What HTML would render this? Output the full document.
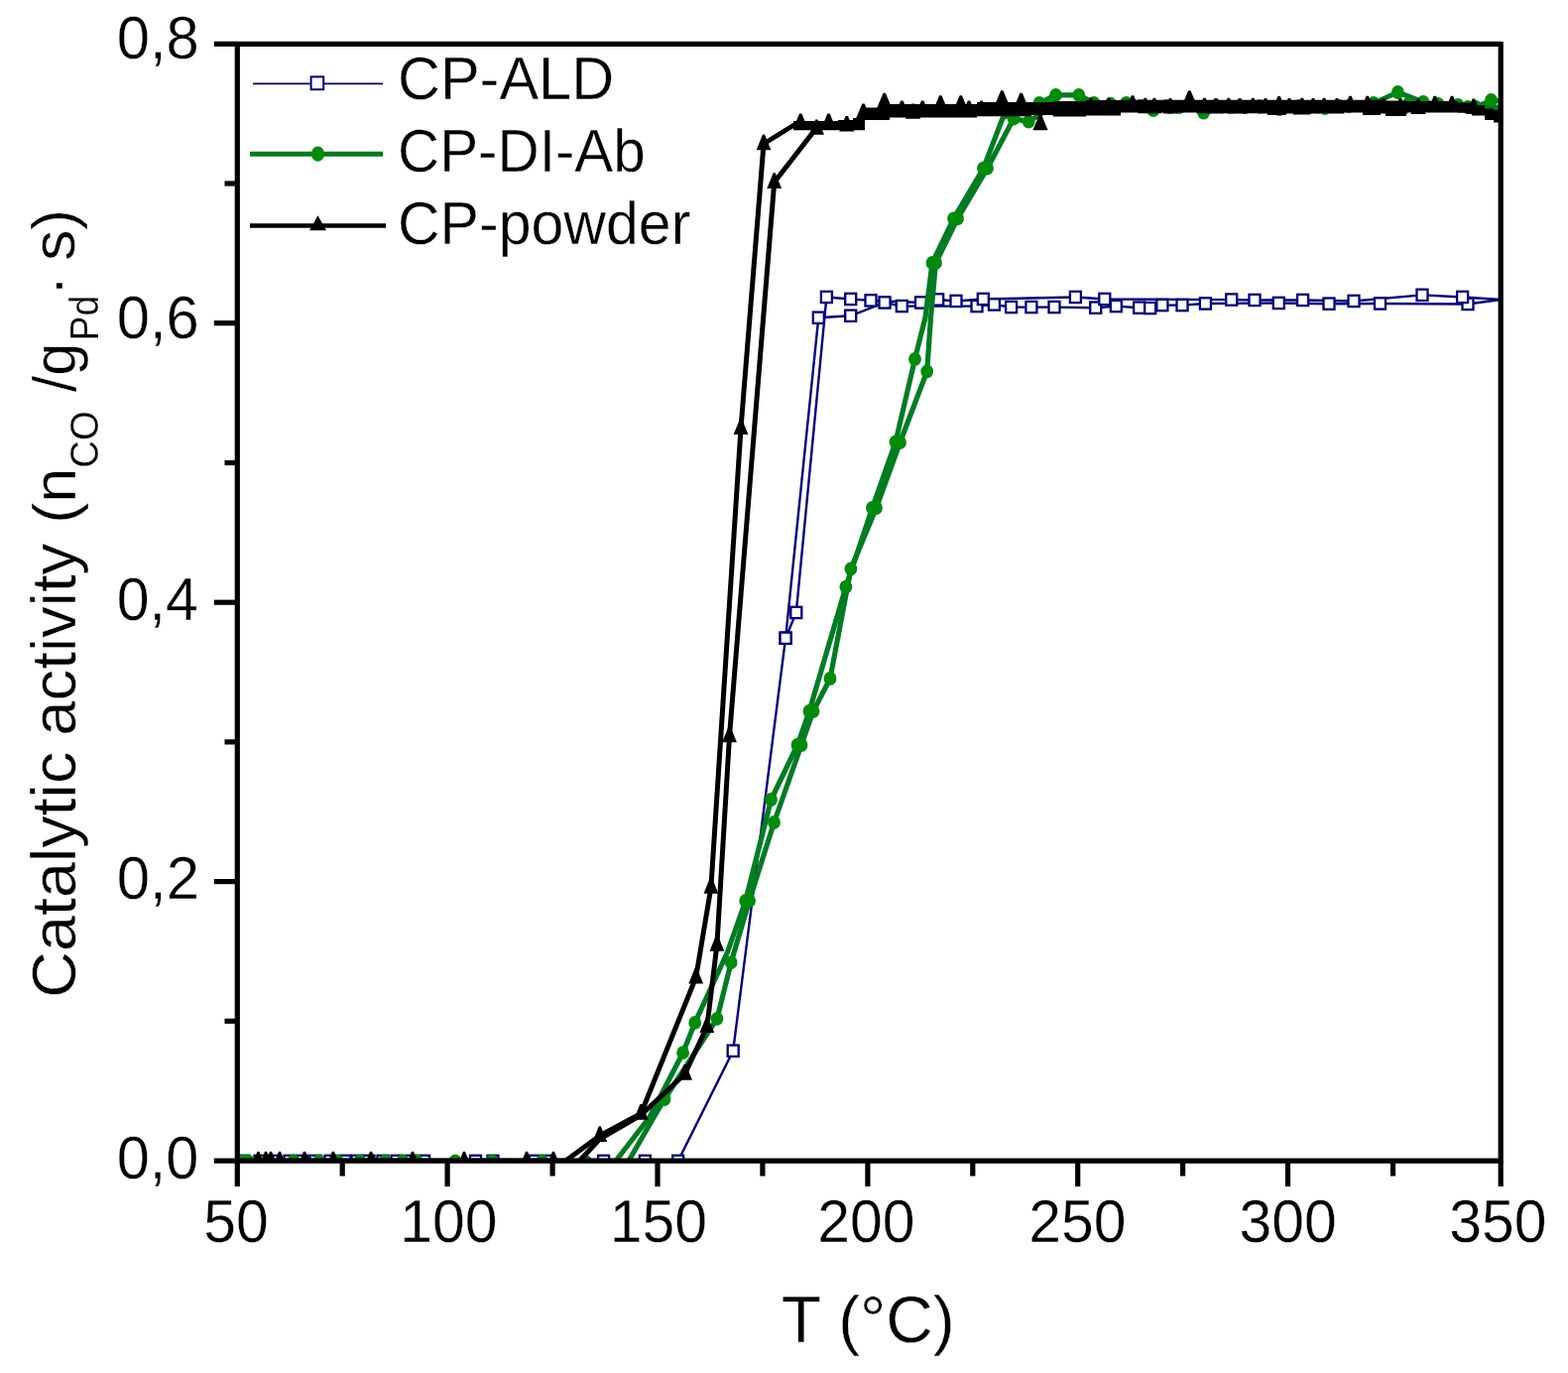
<!DOCTYPE html>
<html lang="en"><head><meta charset="utf-8"><title>Catalytic activity vs T</title>
<style>html,body{margin:0;padding:0;background:#fff}body{width:1581px;height:1384px;overflow:hidden}svg text{font-family:"Liberation Sans", sans-serif}</style>
</head><body>
<svg width="1581" height="1384" viewBox="0 0 1581 1384" font-family='"Liberation Sans", sans-serif' style="display:block">
<rect width="1581" height="1384" fill="#fff"/>
<defs><clipPath id="plot"><rect x="239.3" y="44.3" width="1276.6000000000001" height="1125.8"/></clipPath></defs>
<g clip-path="url(#plot)">
<polyline points="246.0,1170.3 262.0,1170.3 277.0,1170.3 292.0,1170.3 305.0,1170.3 318.0,1170.3 333.0,1170.3 348.0,1170.3 360.0,1170.3 372.0,1170.3 386.0,1170.3 400.0,1170.3 414.0,1170.3 427.6,1170.3 479.5,1170.3 497.0,1170.3 539.0,1170.3 553.0,1170.3 608.6,1170.3 650.3,1170.3 683.7,1170.3 739.2,1059.2 792.1,643.2 825.3,320.3 857.7,318.3 892.0,305.0 909.3,308.6 985.0,308.6 1002.4,307.0 1019.6,309.6 1039.9,309.6 1063.0,309.6 1104.7,310.2 1125.3,308.6 1148.6,310.2 1159.7,310.6 1171.9,307.6 1192.0,307.6 1215.4,306.0 1289.3,305.5 1340.0,306.2 1391.5,306.0 1480.0,306.5 1513.0,302.0" fill="none" stroke="#00007a" stroke-width="2.4" stroke-linejoin="round" stroke-linecap="butt"/>
<polyline points="792.1,643.2 802.8,617.4 833.4,299.5 857.7,301.5 878.0,302.9 928.5,305.0 945.7,302.0 964.0,303.5 991.3,301.5 1084.4,299.5 1113.8,301.5 1241.7,302.1 1265.0,302.5 1313.6,302.5 1365.0,303.5 1434.0,297.4 1474.6,299.5 1513.0,302.0" fill="none" stroke="#00007a" stroke-width="2.4" stroke-linejoin="round" stroke-linecap="butt"/>
<rect x="240.5" y="1164.7" width="11.0" height="11.3" fill="#fff" stroke="#00007a" stroke-width="2.3"/>
<rect x="256.5" y="1164.7" width="11.0" height="11.3" fill="#fff" stroke="#00007a" stroke-width="2.3"/>
<rect x="271.5" y="1164.7" width="11.0" height="11.3" fill="#fff" stroke="#00007a" stroke-width="2.3"/>
<rect x="286.5" y="1164.7" width="11.0" height="11.3" fill="#fff" stroke="#00007a" stroke-width="2.3"/>
<rect x="299.5" y="1164.7" width="11.0" height="11.3" fill="#fff" stroke="#00007a" stroke-width="2.3"/>
<rect x="312.5" y="1164.7" width="11.0" height="11.3" fill="#fff" stroke="#00007a" stroke-width="2.3"/>
<rect x="327.5" y="1164.7" width="11.0" height="11.3" fill="#fff" stroke="#00007a" stroke-width="2.3"/>
<rect x="342.5" y="1164.7" width="11.0" height="11.3" fill="#fff" stroke="#00007a" stroke-width="2.3"/>
<rect x="354.5" y="1164.7" width="11.0" height="11.3" fill="#fff" stroke="#00007a" stroke-width="2.3"/>
<rect x="366.5" y="1164.7" width="11.0" height="11.3" fill="#fff" stroke="#00007a" stroke-width="2.3"/>
<rect x="380.5" y="1164.7" width="11.0" height="11.3" fill="#fff" stroke="#00007a" stroke-width="2.3"/>
<rect x="394.5" y="1164.7" width="11.0" height="11.3" fill="#fff" stroke="#00007a" stroke-width="2.3"/>
<rect x="408.5" y="1164.7" width="11.0" height="11.3" fill="#fff" stroke="#00007a" stroke-width="2.3"/>
<rect x="422.1" y="1164.7" width="11.0" height="11.3" fill="#fff" stroke="#00007a" stroke-width="2.3"/>
<rect x="474.0" y="1164.7" width="11.0" height="11.3" fill="#fff" stroke="#00007a" stroke-width="2.3"/>
<rect x="491.5" y="1164.7" width="11.0" height="11.3" fill="#fff" stroke="#00007a" stroke-width="2.3"/>
<rect x="533.5" y="1164.7" width="11.0" height="11.3" fill="#fff" stroke="#00007a" stroke-width="2.3"/>
<rect x="547.5" y="1164.7" width="11.0" height="11.3" fill="#fff" stroke="#00007a" stroke-width="2.3"/>
<rect x="603.1" y="1164.7" width="11.0" height="11.3" fill="#fff" stroke="#00007a" stroke-width="2.3"/>
<rect x="644.8" y="1164.7" width="11.0" height="11.3" fill="#fff" stroke="#00007a" stroke-width="2.3"/>
<rect x="678.2" y="1164.7" width="11.0" height="11.3" fill="#fff" stroke="#00007a" stroke-width="2.3"/>
<rect x="733.7" y="1053.6" width="11.0" height="11.3" fill="#fff" stroke="#00007a" stroke-width="2.3"/>
<rect x="786.6" y="637.6" width="11.0" height="11.3" fill="#fff" stroke="#00007a" stroke-width="2.3"/>
<rect x="819.8" y="314.6" width="11.0" height="11.3" fill="#fff" stroke="#00007a" stroke-width="2.3"/>
<rect x="852.2" y="312.6" width="11.0" height="11.3" fill="#fff" stroke="#00007a" stroke-width="2.3"/>
<rect x="886.5" y="299.3" width="11.0" height="11.3" fill="#fff" stroke="#00007a" stroke-width="2.3"/>
<rect x="903.8" y="302.9" width="11.0" height="11.3" fill="#fff" stroke="#00007a" stroke-width="2.3"/>
<rect x="979.5" y="302.9" width="11.0" height="11.3" fill="#fff" stroke="#00007a" stroke-width="2.3"/>
<rect x="996.9" y="301.3" width="11.0" height="11.3" fill="#fff" stroke="#00007a" stroke-width="2.3"/>
<rect x="1014.1" y="303.9" width="11.0" height="11.3" fill="#fff" stroke="#00007a" stroke-width="2.3"/>
<rect x="1034.4" y="303.9" width="11.0" height="11.3" fill="#fff" stroke="#00007a" stroke-width="2.3"/>
<rect x="1057.5" y="303.9" width="11.0" height="11.3" fill="#fff" stroke="#00007a" stroke-width="2.3"/>
<rect x="1099.2" y="304.5" width="11.0" height="11.3" fill="#fff" stroke="#00007a" stroke-width="2.3"/>
<rect x="1119.8" y="302.9" width="11.0" height="11.3" fill="#fff" stroke="#00007a" stroke-width="2.3"/>
<rect x="1143.1" y="304.5" width="11.0" height="11.3" fill="#fff" stroke="#00007a" stroke-width="2.3"/>
<rect x="1154.2" y="304.9" width="11.0" height="11.3" fill="#fff" stroke="#00007a" stroke-width="2.3"/>
<rect x="1166.4" y="301.9" width="11.0" height="11.3" fill="#fff" stroke="#00007a" stroke-width="2.3"/>
<rect x="1186.5" y="301.9" width="11.0" height="11.3" fill="#fff" stroke="#00007a" stroke-width="2.3"/>
<rect x="1209.9" y="300.3" width="11.0" height="11.3" fill="#fff" stroke="#00007a" stroke-width="2.3"/>
<rect x="1283.8" y="299.8" width="11.0" height="11.3" fill="#fff" stroke="#00007a" stroke-width="2.3"/>
<rect x="1334.5" y="300.5" width="11.0" height="11.3" fill="#fff" stroke="#00007a" stroke-width="2.3"/>
<rect x="1386.0" y="300.3" width="11.0" height="11.3" fill="#fff" stroke="#00007a" stroke-width="2.3"/>
<rect x="1474.5" y="300.8" width="11.0" height="11.3" fill="#fff" stroke="#00007a" stroke-width="2.3"/>
<rect x="786.6" y="637.6" width="11.0" height="11.3" fill="#fff" stroke="#00007a" stroke-width="2.3"/>
<rect x="797.3" y="611.8" width="11.0" height="11.3" fill="#fff" stroke="#00007a" stroke-width="2.3"/>
<rect x="827.9" y="293.8" width="11.0" height="11.3" fill="#fff" stroke="#00007a" stroke-width="2.3"/>
<rect x="852.2" y="295.8" width="11.0" height="11.3" fill="#fff" stroke="#00007a" stroke-width="2.3"/>
<rect x="872.5" y="297.2" width="11.0" height="11.3" fill="#fff" stroke="#00007a" stroke-width="2.3"/>
<rect x="923.0" y="299.3" width="11.0" height="11.3" fill="#fff" stroke="#00007a" stroke-width="2.3"/>
<rect x="940.2" y="296.3" width="11.0" height="11.3" fill="#fff" stroke="#00007a" stroke-width="2.3"/>
<rect x="958.5" y="297.8" width="11.0" height="11.3" fill="#fff" stroke="#00007a" stroke-width="2.3"/>
<rect x="985.8" y="295.8" width="11.0" height="11.3" fill="#fff" stroke="#00007a" stroke-width="2.3"/>
<rect x="1078.9" y="293.8" width="11.0" height="11.3" fill="#fff" stroke="#00007a" stroke-width="2.3"/>
<rect x="1108.3" y="295.8" width="11.0" height="11.3" fill="#fff" stroke="#00007a" stroke-width="2.3"/>
<rect x="1236.2" y="296.4" width="11.0" height="11.3" fill="#fff" stroke="#00007a" stroke-width="2.3"/>
<rect x="1259.5" y="296.8" width="11.0" height="11.3" fill="#fff" stroke="#00007a" stroke-width="2.3"/>
<rect x="1308.1" y="296.8" width="11.0" height="11.3" fill="#fff" stroke="#00007a" stroke-width="2.3"/>
<rect x="1359.5" y="297.8" width="11.0" height="11.3" fill="#fff" stroke="#00007a" stroke-width="2.3"/>
<rect x="1428.5" y="291.7" width="11.0" height="11.3" fill="#fff" stroke="#00007a" stroke-width="2.3"/>
<rect x="1469.1" y="293.8" width="11.0" height="11.3" fill="#fff" stroke="#00007a" stroke-width="2.3"/>
<polyline points="243.0,1170.3 250.0,1170.3 270.0,1170.3 296.0,1170.3 322.0,1170.3 340.0,1170.3 363.0,1170.3 388.0,1170.3 406.0,1170.3 420.0,1170.3 459.0,1170.3 496.0,1170.3 546.6,1170.3 590.0,1170.3 621.0,1170.0 655.0,1126.0 688.6,1061.2 700.7,1030.9 733.4,960.0 751.7,908.0 777.5,806.0 804.0,751.0 816.0,717.0 852.9,591.6 879.5,512.0 903.0,445.5 922.5,362.0 933.0,320.0 940.0,265.0 961.6,220.4 991.5,169.7 1011.0,119.0 1030.0,110.0 1048.0,104.0 1064.5,95.8 1087.8,95.8 1103.0,103.8 1120.0,105.0 1135.5,103.8 1150.0,107.0 1162.9,111.1 1176.0,107.0 1189.0,108.0 1201.0,106.0 1213.5,113.6 1226.0,106.5 1240.0,108.0 1255.0,108.0 1270.0,107.0 1290.0,110.0 1310.0,107.0 1336.0,109.0 1360.0,107.0 1385.0,104.0 1409.4,93.0 1435.0,103.0 1450.0,105.0 1470.0,106.0 1488.0,108.0 1503.5,101.0 1513.0,102.0" fill="none" stroke="#007c22" stroke-width="5.2" stroke-linejoin="round" stroke-linecap="butt"/>
<polyline points="634.0,1170.0 657.0,1130.0 670.0,1108.0 723.0,1026.8 737.2,970.1 755.5,908.0 780.5,829.0 808.0,751.0 820.0,717.0 837.0,684.0 857.9,573.4 883.5,512.0 907.5,446.0 934.7,374.4 938.5,320.0 943.5,265.0 965.5,220.4 995.5,169.7 1022.0,119.6 1037.2,122.6 1060.0,108.0 1090.0,106.0 1120.0,106.0 1150.0,107.0 1180.0,108.0 1210.0,108.0 1250.0,107.0 1290.0,108.0 1320.0,108.0 1350.0,107.0 1380.0,107.0 1420.0,105.0 1450.0,106.0 1480.0,108.0 1513.0,108.0" fill="none" stroke="#007c22" stroke-width="5.2" stroke-linejoin="round" stroke-linecap="butt"/>
<ellipse cx="243.0" cy="1170.3" rx="6.4" ry="6.9" fill="#008c0a"/>
<ellipse cx="250.0" cy="1170.3" rx="6.4" ry="6.9" fill="#008c0a"/>
<ellipse cx="270.0" cy="1170.3" rx="6.4" ry="6.9" fill="#008c0a"/>
<ellipse cx="296.0" cy="1170.3" rx="6.4" ry="6.9" fill="#008c0a"/>
<ellipse cx="322.0" cy="1170.3" rx="6.4" ry="6.9" fill="#008c0a"/>
<ellipse cx="340.0" cy="1170.3" rx="6.4" ry="6.9" fill="#008c0a"/>
<ellipse cx="363.0" cy="1170.3" rx="6.4" ry="6.9" fill="#008c0a"/>
<ellipse cx="388.0" cy="1170.3" rx="6.4" ry="6.9" fill="#008c0a"/>
<ellipse cx="406.0" cy="1170.3" rx="6.4" ry="6.9" fill="#008c0a"/>
<ellipse cx="420.0" cy="1170.3" rx="6.4" ry="6.9" fill="#008c0a"/>
<ellipse cx="459.0" cy="1170.3" rx="6.4" ry="6.9" fill="#008c0a"/>
<ellipse cx="496.0" cy="1170.3" rx="6.4" ry="6.9" fill="#008c0a"/>
<ellipse cx="546.6" cy="1170.3" rx="6.4" ry="6.9" fill="#008c0a"/>
<ellipse cx="590.0" cy="1170.3" rx="6.4" ry="6.9" fill="#008c0a"/>
<ellipse cx="688.6" cy="1061.2" rx="6.4" ry="6.9" fill="#008c0a"/>
<ellipse cx="700.7" cy="1030.9" rx="6.4" ry="6.9" fill="#008c0a"/>
<ellipse cx="751.7" cy="908.0" rx="6.4" ry="6.9" fill="#008c0a"/>
<ellipse cx="777.5" cy="806.0" rx="6.4" ry="6.9" fill="#008c0a"/>
<ellipse cx="804.0" cy="751.0" rx="6.4" ry="6.9" fill="#008c0a"/>
<ellipse cx="816.0" cy="717.0" rx="6.4" ry="6.9" fill="#008c0a"/>
<ellipse cx="852.9" cy="591.6" rx="6.4" ry="6.9" fill="#008c0a"/>
<ellipse cx="879.5" cy="512.0" rx="6.4" ry="6.9" fill="#008c0a"/>
<ellipse cx="903.0" cy="445.5" rx="6.4" ry="6.9" fill="#008c0a"/>
<ellipse cx="922.5" cy="362.0" rx="6.4" ry="6.9" fill="#008c0a"/>
<ellipse cx="940.0" cy="265.0" rx="6.4" ry="6.9" fill="#008c0a"/>
<ellipse cx="961.6" cy="220.4" rx="6.4" ry="6.9" fill="#008c0a"/>
<ellipse cx="991.5" cy="169.7" rx="6.4" ry="6.9" fill="#008c0a"/>
<ellipse cx="1030.0" cy="110.0" rx="6.4" ry="6.9" fill="#008c0a"/>
<ellipse cx="1048.0" cy="104.0" rx="6.4" ry="6.9" fill="#008c0a"/>
<ellipse cx="1064.5" cy="95.8" rx="6.4" ry="6.9" fill="#008c0a"/>
<ellipse cx="1087.8" cy="95.8" rx="6.4" ry="6.9" fill="#008c0a"/>
<ellipse cx="1103.0" cy="103.8" rx="6.4" ry="6.9" fill="#008c0a"/>
<ellipse cx="1120.0" cy="105.0" rx="6.4" ry="6.9" fill="#008c0a"/>
<ellipse cx="1135.5" cy="103.8" rx="6.4" ry="6.9" fill="#008c0a"/>
<ellipse cx="1150.0" cy="107.0" rx="6.4" ry="6.9" fill="#008c0a"/>
<ellipse cx="1162.9" cy="111.1" rx="6.4" ry="6.9" fill="#008c0a"/>
<ellipse cx="1176.0" cy="107.0" rx="6.4" ry="6.9" fill="#008c0a"/>
<ellipse cx="1189.0" cy="108.0" rx="6.4" ry="6.9" fill="#008c0a"/>
<ellipse cx="1201.0" cy="106.0" rx="6.4" ry="6.9" fill="#008c0a"/>
<ellipse cx="1213.5" cy="113.6" rx="6.4" ry="6.9" fill="#008c0a"/>
<ellipse cx="1226.0" cy="106.5" rx="6.4" ry="6.9" fill="#008c0a"/>
<ellipse cx="1240.0" cy="108.0" rx="6.4" ry="6.9" fill="#008c0a"/>
<ellipse cx="1255.0" cy="108.0" rx="6.4" ry="6.9" fill="#008c0a"/>
<ellipse cx="1270.0" cy="107.0" rx="6.4" ry="6.9" fill="#008c0a"/>
<ellipse cx="1290.0" cy="110.0" rx="6.4" ry="6.9" fill="#008c0a"/>
<ellipse cx="1310.0" cy="107.0" rx="6.4" ry="6.9" fill="#008c0a"/>
<ellipse cx="1336.0" cy="109.0" rx="6.4" ry="6.9" fill="#008c0a"/>
<ellipse cx="1360.0" cy="107.0" rx="6.4" ry="6.9" fill="#008c0a"/>
<ellipse cx="1385.0" cy="104.0" rx="6.4" ry="6.9" fill="#008c0a"/>
<ellipse cx="1409.4" cy="93.0" rx="6.4" ry="6.9" fill="#008c0a"/>
<ellipse cx="1435.0" cy="103.0" rx="6.4" ry="6.9" fill="#008c0a"/>
<ellipse cx="1450.0" cy="105.0" rx="6.4" ry="6.9" fill="#008c0a"/>
<ellipse cx="1470.0" cy="106.0" rx="6.4" ry="6.9" fill="#008c0a"/>
<ellipse cx="1488.0" cy="108.0" rx="6.4" ry="6.9" fill="#008c0a"/>
<ellipse cx="1503.5" cy="101.0" rx="6.4" ry="6.9" fill="#008c0a"/>
<ellipse cx="670.0" cy="1108.0" rx="6.4" ry="6.9" fill="#008c0a"/>
<ellipse cx="723.0" cy="1026.8" rx="6.4" ry="6.9" fill="#008c0a"/>
<ellipse cx="737.2" cy="970.1" rx="6.4" ry="6.9" fill="#008c0a"/>
<ellipse cx="755.5" cy="908.0" rx="6.4" ry="6.9" fill="#008c0a"/>
<ellipse cx="780.5" cy="829.0" rx="6.4" ry="6.9" fill="#008c0a"/>
<ellipse cx="808.0" cy="751.0" rx="6.4" ry="6.9" fill="#008c0a"/>
<ellipse cx="820.0" cy="717.0" rx="6.4" ry="6.9" fill="#008c0a"/>
<ellipse cx="837.0" cy="684.0" rx="6.4" ry="6.9" fill="#008c0a"/>
<ellipse cx="857.9" cy="573.4" rx="6.4" ry="6.9" fill="#008c0a"/>
<ellipse cx="883.5" cy="512.0" rx="6.4" ry="6.9" fill="#008c0a"/>
<ellipse cx="907.5" cy="446.0" rx="6.4" ry="6.9" fill="#008c0a"/>
<ellipse cx="934.7" cy="374.4" rx="6.4" ry="6.9" fill="#008c0a"/>
<ellipse cx="943.5" cy="265.0" rx="6.4" ry="6.9" fill="#008c0a"/>
<ellipse cx="965.5" cy="220.4" rx="6.4" ry="6.9" fill="#008c0a"/>
<ellipse cx="995.5" cy="169.7" rx="6.4" ry="6.9" fill="#008c0a"/>
<ellipse cx="1022.0" cy="119.6" rx="6.4" ry="6.9" fill="#008c0a"/>
<ellipse cx="1037.2" cy="122.6" rx="6.4" ry="6.9" fill="#008c0a"/>
<ellipse cx="1060.0" cy="108.0" rx="6.4" ry="6.9" fill="#008c0a"/>
<ellipse cx="1090.0" cy="106.0" rx="6.4" ry="6.9" fill="#008c0a"/>
<ellipse cx="1120.0" cy="106.0" rx="6.4" ry="6.9" fill="#008c0a"/>
<ellipse cx="1150.0" cy="107.0" rx="6.4" ry="6.9" fill="#008c0a"/>
<ellipse cx="1180.0" cy="108.0" rx="6.4" ry="6.9" fill="#008c0a"/>
<ellipse cx="1210.0" cy="108.0" rx="6.4" ry="6.9" fill="#008c0a"/>
<ellipse cx="1250.0" cy="107.0" rx="6.4" ry="6.9" fill="#008c0a"/>
<ellipse cx="1290.0" cy="108.0" rx="6.4" ry="6.9" fill="#008c0a"/>
<ellipse cx="1320.0" cy="108.0" rx="6.4" ry="6.9" fill="#008c0a"/>
<ellipse cx="1350.0" cy="107.0" rx="6.4" ry="6.9" fill="#008c0a"/>
<ellipse cx="1380.0" cy="107.0" rx="6.4" ry="6.9" fill="#008c0a"/>
<ellipse cx="1420.0" cy="105.0" rx="6.4" ry="6.9" fill="#008c0a"/>
<ellipse cx="1450.0" cy="106.0" rx="6.4" ry="6.9" fill="#008c0a"/>
<ellipse cx="1480.0" cy="108.0" rx="6.4" ry="6.9" fill="#008c0a"/>
<polyline points="260.4,1170.3 268.0,1170.3 273.0,1170.3 282.0,1170.3 307.0,1170.3 336.0,1170.3 374.0,1170.3 416.0,1170.3 468.0,1170.3 531.0,1170.3 558.0,1170.3 570.4,1170.0 604.8,1144.8 646.3,1122.5 701.7,985.3 716.9,894.5 747.0,431.8 770.0,145.0 803.0,124.5" fill="none" stroke="#000" stroke-width="5.0" stroke-linejoin="round" stroke-linecap="butt"/>
<polyline points="584.5,1170.0 604.8,1148.0 646.3,1124.0 690.6,1082.5 712.9,1034.9 722.9,952.5 735.5,742.0 780.7,183.8 823.4,128.8" fill="none" stroke="#000" stroke-width="5.0" stroke-linejoin="round" stroke-linecap="butt"/>
<polygon points="259.4,1160.7 261.4,1160.7 267.8,1176.5 253.0,1176.5" fill="#000"/>
<polygon points="267.0,1160.7 269.0,1160.7 275.4,1176.5 260.6,1176.5" fill="#000"/>
<polygon points="272.0,1160.7 274.0,1160.7 280.4,1176.5 265.6,1176.5" fill="#000"/>
<polygon points="281.0,1160.7 283.0,1160.7 289.4,1176.5 274.6,1176.5" fill="#000"/>
<polygon points="306.0,1160.7 308.0,1160.7 314.4,1176.5 299.6,1176.5" fill="#000"/>
<polygon points="335.0,1160.7 337.0,1160.7 343.4,1176.5 328.6,1176.5" fill="#000"/>
<polygon points="373.0,1160.7 375.0,1160.7 381.4,1176.5 366.6,1176.5" fill="#000"/>
<polygon points="415.0,1160.7 417.0,1160.7 423.4,1176.5 408.6,1176.5" fill="#000"/>
<polygon points="467.0,1160.7 469.0,1160.7 475.4,1176.5 460.6,1176.5" fill="#000"/>
<polygon points="530.0,1160.7 532.0,1160.7 538.4,1176.5 523.6,1176.5" fill="#000"/>
<polygon points="557.0,1160.7 559.0,1160.7 565.4,1176.5 550.6,1176.5" fill="#000"/>
<polygon points="603.8,1135.2 605.8,1135.2 612.2,1151.0 597.4,1151.0" fill="#000"/>
<polygon points="645.3,1112.9 647.3,1112.9 653.7,1128.7 638.9,1128.7" fill="#000"/>
<polygon points="700.7,975.7 702.7,975.7 709.1,991.5 694.3,991.5" fill="#000"/>
<polygon points="715.9,884.9 717.9,884.9 724.3,900.7 709.5,900.7" fill="#000"/>
<polygon points="746.0,422.2 748.0,422.2 754.4,438.0 739.6,438.0" fill="#000"/>
<polygon points="769.0,135.4 771.0,135.4 777.4,151.2 762.6,151.2" fill="#000"/>
<polygon points="689.6,1072.9 691.6,1072.9 698.0,1088.7 683.2,1088.7" fill="#000"/>
<polygon points="711.9,1025.3 713.9,1025.3 720.3,1041.1 705.5,1041.1" fill="#000"/>
<polygon points="721.9,942.9 723.9,942.9 730.3,958.7 715.5,958.7" fill="#000"/>
<polygon points="734.5,732.4 736.5,732.4 742.9,748.2 728.1,748.2" fill="#000"/>
<polygon points="779.7,174.2 781.7,174.2 788.1,190.0 773.3,190.0" fill="#000"/>
<polygon points="800.0,122.1 845.0,122.1 845.0,121.0 860.0,121.0 860.0,119.0 872.0,119.0 872.0,108.5 897.0,108.5 897.0,105.0 985.0,105.0 985.0,103.0 1040.0,103.0 1040.0,103.0 1062.0,103.0 1062.0,102.0 1095.0,102.0 1095.0,101.0 1130.0,101.0 1130.0,100.8 1278.0,100.8 1278.0,100.8 1297.0,100.8 1297.0,100.8 1304.0,100.8 1304.0,100.8 1321.0,100.8 1321.0,100.8 1374.0,100.8 1374.0,100.8 1392.0,100.8 1392.0,100.8 1397.0,100.8 1397.0,101.5 1418.0,101.5 1418.0,102.0 1470.0,102.0 1470.0,103.4 1484.0,103.4 1484.0,106.0 1497.0,106.0 1497.0,109.5 1506.0,109.5 1506.0,110.5 1513.2,110.5 1513.2,123.6 1506.0,123.6 1506.0,121.0 1497.0,121.0 1497.0,116.5 1484.0,116.5 1484.0,113.8 1470.0,113.8 1470.0,113.5 1418.0,113.5 1418.0,117.0 1397.0,117.0 1397.0,113.5 1392.0,113.5 1392.0,116.0 1374.0,116.0 1374.0,113.5 1321.0,113.5 1321.0,115.5 1304.0,115.5 1304.0,113.5 1297.0,113.5 1297.0,116.0 1278.0,116.0 1278.0,113.5 1130.0,113.5 1130.0,116.5 1095.0,116.5 1095.0,117.5 1062.0,117.5 1062.0,116.0 1040.0,116.0 1040.0,117.2 985.0,117.2 985.0,118.6 897.0,118.6 897.0,121.1 872.0,121.1 872.0,131.2 860.0,131.2 860.0,131.2 845.0,131.2 845.0,131.2 800.0,131.2" fill="#000"/>
<polygon points="806.0,114.5 808.4,114.5 814.8,129.9 799.6,129.9" fill="#000"/>
<polygon points="834.3,114.5 836.7,114.5 843.1,129.9 827.9,129.9" fill="#000"/>
<polygon points="852.6,117.0 855.0,117.0 861.4,132.4 846.2,132.4" fill="#000"/>
<polygon points="869.3,104.4 871.7,104.4 878.1,119.8 862.9,119.8" fill="#000"/>
<polygon points="890.5,93.8 892.9,93.8 899.3,109.2 884.1,109.2" fill="#000"/>
<polygon points="908.2,101.4 910.6,101.4 917.0,116.8 901.8,116.8" fill="#000"/>
<polygon points="919.4,104.4 921.8,104.4 928.2,119.8 913.0,119.8" fill="#000"/>
<polygon points="929.0,101.4 931.4,101.4 937.8,116.8 922.6,116.8" fill="#000"/>
<polygon points="947.1,96.3 949.5,96.3 955.9,111.7 940.7,111.7" fill="#000"/>
<polygon points="967.6,96.3 970.0,96.3 976.4,111.7 961.2,111.7" fill="#000"/>
<polygon points="975.8,101.4 978.2,101.4 984.6,116.8 969.4,116.8" fill="#000"/>
<polygon points="988.4,101.4 990.8,101.4 997.2,116.8 982.0,116.8" fill="#000"/>
<polygon points="1009.1,91.3 1011.5,91.3 1017.9,106.7 1002.7,106.7" fill="#000"/>
<polygon points="1028.4,93.8 1030.8,93.8 1037.2,109.2 1022.0,109.2" fill="#000"/>
<polygon points="1140.8,96.3 1143.2,96.3 1149.6,111.7 1134.4,111.7" fill="#000"/>
<polygon points="1198.1,91.3 1200.5,91.3 1206.9,106.7 1191.7,106.7" fill="#000"/>
<polygon points="1153.6,98.8 1156.0,98.8 1162.4,114.2 1147.2,114.2" fill="#000"/>
<polygon points="1162.7,98.8 1165.1,98.8 1171.5,114.2 1156.3,114.2" fill="#000"/>
<polygon points="1213.3,98.8 1215.7,98.8 1222.1,114.2 1206.9,114.2" fill="#000"/>
<polygon points="1237.6,98.8 1240.0,98.8 1246.4,114.2 1231.2,114.2" fill="#000"/>
<polygon points="1262.1,98.8 1264.5,98.8 1270.9,114.2 1255.7,114.2" fill="#000"/>
<polygon points="1288.4,97.0 1290.8,97.0 1297.2,112.4 1282.0,112.4" fill="#000"/>
<polygon points="1311.7,98.8 1314.1,98.8 1320.5,114.2 1305.3,114.2" fill="#000"/>
<polygon points="1333.9,98.8 1336.3,98.8 1342.7,114.2 1327.5,114.2" fill="#000"/>
<polygon points="1360.3,96.8 1362.7,96.8 1369.1,112.2 1353.9,112.2" fill="#000"/>
<polygon points="1377.5,96.8 1379.9,96.8 1386.3,112.2 1371.1,112.2" fill="#000"/>
<polygon points="1445.6,96.8 1448.0,96.8 1454.4,112.2 1439.2,112.2" fill="#000"/>
<polygon points="1462.8,96.8 1465.2,96.8 1471.6,112.2 1456.4,112.2" fill="#000"/>
<polygon points="1484.6,99.5 1487.0,99.5 1493.4,114.9 1478.2,114.9" fill="#000"/>
<polygon points="1098.8,98.5 1101.2,98.5 1107.6,113.9 1092.4,113.9" fill="#000"/>
<polygon points="1116.8,98.5 1119.2,98.5 1125.6,113.9 1110.4,113.9" fill="#000"/>
<polygon points="1178.8,99.0 1181.2,99.0 1187.6,114.4 1172.4,114.4" fill="#000"/>
<polygon points="1224.8,99.0 1227.2,99.0 1233.6,114.4 1218.4,114.4" fill="#000"/>
<polygon points="1248.8,99.0 1251.2,99.0 1257.6,114.4 1242.4,114.4" fill="#000"/>
<polygon points="1274.8,99.0 1277.2,99.0 1283.6,114.4 1268.4,114.4" fill="#000"/>
<polygon points="1298.8,99.0 1301.2,99.0 1307.6,114.4 1292.4,114.4" fill="#000"/>
<polygon points="1322.8,99.0 1325.2,99.0 1331.6,114.4 1316.4,114.4" fill="#000"/>
<polygon points="1346.8,99.0 1349.2,99.0 1355.6,114.4 1340.4,114.4" fill="#000"/>
<polygon points="1393.8,99.0 1396.2,99.0 1402.6,114.4 1387.4,114.4" fill="#000"/>
<polygon points="1410.8,99.0 1413.2,99.0 1419.6,114.4 1404.4,114.4" fill="#000"/>
<polygon points="1428.8,99.5 1431.2,99.5 1437.6,114.9 1422.4,114.9" fill="#000"/>
<polygon points="822.2,120.4 824.6,120.4 831.0,135.8 815.8,135.8" fill="#000"/>
<polygon points="1047.8,115.8 1050.2,115.8 1056.6,131.2 1041.4,131.2" fill="#000"/>
</g>
<g stroke="#000" stroke-width="5.2" fill="none" stroke-linecap="butt">
<line x1="239.3" y1="41.90" x2="239.3" y2="1172.6999999999998"/>
<line x1="1513.2" y1="41.90" x2="1513.2" y2="1172.6999999999998"/>
<line x1="239.3" y1="44.3" x2="1513.2" y2="44.3"/>
<line x1="239.3" y1="1170.1" x2="1513.2" y2="1170.1"/>
<line x1="239.3" y1="1170.1" x2="239.3" y2="1196.0"/>
<line x1="345.2" y1="1170.1" x2="345.2" y2="1185.5"/>
<line x1="451.1" y1="1170.1" x2="451.1" y2="1196.0"/>
<line x1="557.1" y1="1170.1" x2="557.1" y2="1185.5"/>
<line x1="663.0" y1="1170.1" x2="663.0" y2="1196.0"/>
<line x1="768.9" y1="1170.1" x2="768.9" y2="1185.5"/>
<line x1="874.9" y1="1170.1" x2="874.9" y2="1196.0"/>
<line x1="980.8" y1="1170.1" x2="980.8" y2="1185.5"/>
<line x1="1086.7" y1="1170.1" x2="1086.7" y2="1196.0"/>
<line x1="1192.6" y1="1170.1" x2="1192.6" y2="1185.5"/>
<line x1="1298.5" y1="1170.1" x2="1298.5" y2="1196.0"/>
<line x1="1404.5" y1="1170.1" x2="1404.5" y2="1185.5"/>
<line x1="1513.2" y1="1170.1" x2="1513.2" y2="1196.0"/>
<line x1="215.8" y1="1170.1" x2="239.3" y2="1170.1"/>
<line x1="226.5" y1="1029.3" x2="239.3" y2="1029.3"/>
<line x1="215.8" y1="888.6" x2="239.3" y2="888.6"/>
<line x1="226.5" y1="747.9" x2="239.3" y2="747.9"/>
<line x1="215.8" y1="607.2" x2="239.3" y2="607.2"/>
<line x1="226.5" y1="466.5" x2="239.3" y2="466.5"/>
<line x1="215.8" y1="325.7" x2="239.3" y2="325.7"/>
<line x1="226.5" y1="185.0" x2="239.3" y2="185.0"/>
<line x1="215.8" y1="44.3" x2="239.3" y2="44.3"/>
</g>
<text transform="matrix(0.59693,0,0,0.61831,117.71,59.38)" font-size="100" xml:space="preserve" fill="#000" stroke="#fff" stroke-width="0.60">0,8</text>
<text transform="matrix(0.59693,0,0,0.61831,117.71,340.78)" font-size="100" xml:space="preserve" fill="#000" stroke="#fff" stroke-width="0.60">0,6</text>
<text transform="matrix(0.59015,0,0,0.61831,117.74,625.08)" font-size="100" xml:space="preserve" fill="#000" stroke="#fff" stroke-width="0.60">0,4</text>
<text transform="matrix(0.59923,0,0,0.61831,117.70,906.18)" font-size="100" xml:space="preserve" fill="#000" stroke="#fff" stroke-width="0.60">0,2</text>
<text transform="matrix(0.59466,0,0,0.61831,117.72,1187.88)" font-size="100" xml:space="preserve" fill="#000" stroke="#fff" stroke-width="0.60">0,0</text>
<text transform="matrix(0.58900,0,0,0.61549,205.31,1252.38)" font-size="100" xml:space="preserve" fill="#000" stroke="#fff" stroke-width="0.60">50</text>
<text transform="matrix(0.58900,0,0,0.61549,403.34,1252.38)" font-size="100" xml:space="preserve" fill="#000" stroke="#fff" stroke-width="0.60">100</text>
<text transform="matrix(0.58900,0,0,0.61549,614.79,1252.38)" font-size="100" xml:space="preserve" fill="#000" stroke="#fff" stroke-width="0.60">150</text>
<text transform="matrix(0.58900,0,0,0.61549,824.27,1252.38)" font-size="100" xml:space="preserve" fill="#000" stroke="#fff" stroke-width="0.60">200</text>
<text transform="matrix(0.58900,0,0,0.61549,1037.32,1252.38)" font-size="100" xml:space="preserve" fill="#000" stroke="#fff" stroke-width="0.60">250</text>
<text transform="matrix(0.58900,0,0,0.61549,1249.42,1252.38)" font-size="100" xml:space="preserve" fill="#000" stroke="#fff" stroke-width="0.60">300</text>
<text transform="matrix(0.58900,0,0,0.61549,1461.37,1252.38)" font-size="100" xml:space="preserve" fill="#000" stroke="#fff" stroke-width="0.60">350</text>
<line x1="255" y1="84.4" x2="386" y2="84.4" stroke="#00007a" stroke-width="1.8"/>
<rect x="313.6" y="77.4" width="12.6" height="12.8" fill="#fff" stroke="#00007a" stroke-width="2"/>
<line x1="252" y1="155.3" x2="386" y2="155.3" stroke="#007c22" stroke-width="5"/>
<ellipse cx="320.5" cy="155.2" rx="6.6" ry="7.6" fill="#008c0a"/>
<line x1="252" y1="227.5" x2="389" y2="227.5" stroke="#000" stroke-width="4.6"/>
<polygon points="320.5,217.2 329,232.3 312,232.3" fill="#000"/>
<text transform="matrix(0.59524,0,0,0.61972,400.92,100.08)" font-size="100" xml:space="preserve" fill="#000" stroke="#fff" stroke-width="0.60">CP-ALD</text>
<text transform="matrix(0.58399,0,0,0.61972,400.98,172.98)" font-size="100" xml:space="preserve" fill="#000" stroke="#fff" stroke-width="0.60">CP-DI-Ab</text>
<text transform="matrix(0.59068,0,0,0.61972,400.95,245.78)" font-size="100" xml:space="preserve" fill="#000" stroke="#fff" stroke-width="0.60">CP-powder</text>
<text transform="matrix(0.65798,0,0,0.66377,787.86,1353.10)" font-size="100" xml:space="preserve" fill="#000" stroke="#fff" stroke-width="0.60">T (°C)</text>
<text transform="matrix(0,-0.64654,0.63448,0,75.60,1005.63)" font-size="100" xml:space="preserve" fill="#000" stroke="#fff" stroke-width="0.60">Catalytic</text>
<text transform="matrix(0,-0.63461,0.63448,0,75.60,741.66)" font-size="100" xml:space="preserve" fill="#000" stroke="#fff" stroke-width="0.60">activity</text>
<text transform="matrix(0,-0.63137,0.61111,0,75.90,527.69)" font-size="100" xml:space="preserve" fill="#000" stroke="#fff" stroke-width="0.60">(n</text>
<text transform="matrix(0,-0.38357,0.40141,0,99.40,471.72)" font-size="100" xml:space="preserve" fill="#000" stroke="#fff" stroke-width="0.60">CO</text>
<text transform="matrix(0,-0.59351,0.61111,0,75.90,395.20)" font-size="100" xml:space="preserve" fill="#000" stroke="#fff" stroke-width="0.60">/g</text>
<text transform="matrix(0,-0.37222,0.40000,0,99.40,343.38)" font-size="100" xml:space="preserve" fill="#000" stroke="#fff" stroke-width="0.60">Pd</text>
<text transform="matrix(0,-0.63158,0.57143,0,63.00,296.68)" font-size="100" xml:space="preserve" fill="#000" stroke="#fff" stroke-width="0.60">.</text>
<text transform="matrix(0,-0.62838,0.61284,0,75.29,263.09)" font-size="100" xml:space="preserve" fill="#000" stroke="#fff" stroke-width="0.60">s)</text>
</svg>
</body></html>
